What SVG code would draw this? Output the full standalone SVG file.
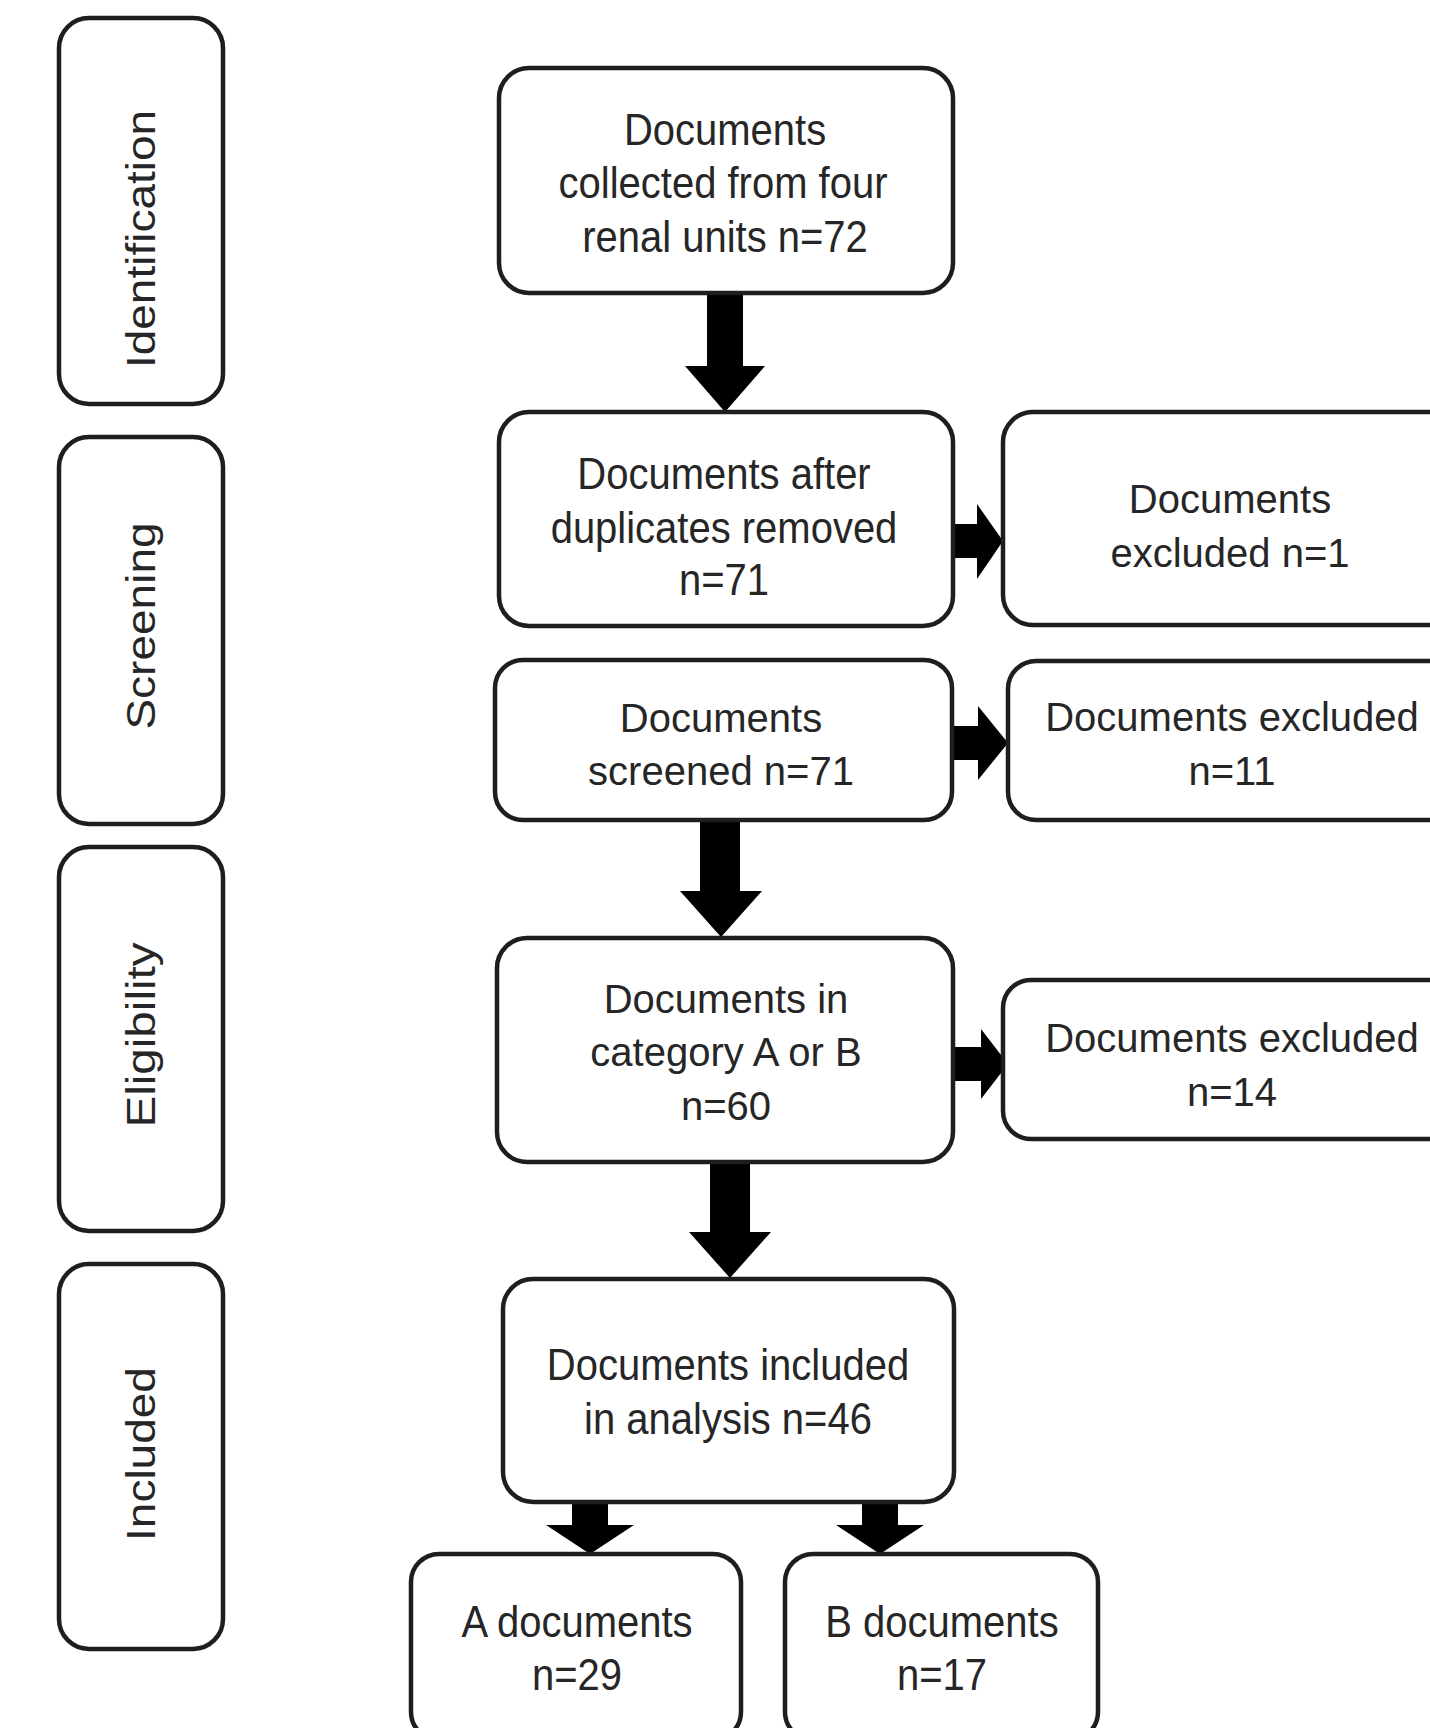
<svg xmlns="http://www.w3.org/2000/svg" width="1430" height="1728" viewBox="0 0 1430 1728">
<style>
.box{fill:#fff;stroke:#1e1e1e;stroke-width:4.5}
.t{font-family:"Liberation Sans",Arial,sans-serif;font-size:40px;fill:#262626;text-anchor:middle}
.arr{fill:#000;stroke:none}
</style>
<rect width="1430" height="1728" fill="#fff"/>
<g id="phase-identification">
<rect class="box" x="59" y="18" width="164" height="386" rx="30"/>
<text class="t" transform="translate(141,239) rotate(-90) scale(1.15,1)" y="14">Identification</text>
</g>
<g id="phase-screening">
<rect class="box" x="59" y="437" width="164" height="387" rx="30"/>
<text class="t" transform="translate(141,626) rotate(-90) scale(1.15,1)" y="14">Screening</text>
</g>
<g id="phase-eligibility">
<rect class="box" x="59" y="847" width="164" height="384" rx="30"/>
<text class="t" transform="translate(141,1035) rotate(-90) scale(1.19,1)" y="14">Eligibility</text>
</g>
<g id="phase-included">
<rect class="box" x="59" y="1264" width="164" height="385" rx="30"/>
<text class="t" transform="translate(141,1454) rotate(-90) scale(1.15,1)" y="14">Included</text>
</g>
<g id="connectors">
<polygon class="arr" points="707,293 743,293 743,366 765,366 725,412 685,366 707,366"/>
<polygon class="arr" points="700,820 740,820 740,891 762,891 721,937 680,891 700,891"/>
<polygon class="arr" points="710,1162 750,1162 750,1232 771,1232 730,1278 689,1232 710,1232"/>
<polygon class="arr" points="572,1502 608,1502 608,1525 634,1525 590,1554 546,1525 572,1525"/>
<polygon class="arr" points="862,1502 898,1502 898,1525 924,1525 880,1554 836,1525 862,1525"/>
<polygon class="arr" points="952,524 977,524 977,504 1003,541 977,579 977,558 952,558"/>
<polygon class="arr" points="951,726 978,726 978,706 1008,743 978,780 978,760 951,760"/>
<polygon class="arr" points="952,1047 981,1047 981,1029 1008,1064 981,1099 981,1081 952,1081"/>
</g>
<g id="n-collected">
<rect class="box" x="499" y="68" width="454" height="225" rx="30"/>
<text class="t" transform="matrix(1,0,0,1.1,725,145)">Documents</text>
<text class="t" transform="matrix(1,0,0,1.1,723,198)">collected from four</text>
<text class="t" transform="matrix(1,0,0,1.1,725,252)">renal units n=72</text>
</g>
<g id="n-duplicates">
<rect class="box" x="499" y="412" width="454" height="214" rx="30"/>
<text class="t" transform="matrix(1,0,0,1.1,724,489)">Documents after</text>
<text class="t" transform="matrix(1,0,0,1.1,724,543)">duplicates removed</text>
<text class="t" transform="matrix(1,0,0,1.1,724,595)">n=71</text>
</g>
<g id="n-excluded1">
<rect class="box" x="1003" y="412" width="460" height="213" rx="30"/>
<text class="t" x="1230" y="513">Documents</text>
<text class="t" x="1230" y="567">excluded n=1</text>
</g>
<g id="n-screened">
<rect class="box" x="495" y="660" width="457" height="160" rx="28"/>
<text class="t" x="721" y="732">Documents</text>
<text class="t" x="721" y="785">screened n=71</text>
</g>
<g id="n-excluded2">
<rect class="box" x="1008" y="661" width="460" height="159" rx="28"/>
<text class="t" x="1232" y="731">Documents excluded</text>
<text class="t" x="1232" y="785">n=11</text>
</g>
<g id="n-category">
<rect class="box" x="497" y="938" width="456" height="224" rx="30"/>
<text class="t" x="726" y="1013">Documents in</text>
<text class="t" x="726" y="1066">category A or B</text>
<text class="t" x="726" y="1120">n=60</text>
</g>
<g id="n-excluded3">
<rect class="box" x="1003" y="980" width="465" height="159" rx="28"/>
<text class="t" x="1232" y="1052">Documents excluded</text>
<text class="t" x="1232" y="1106">n=14</text>
</g>
<g id="n-included">
<rect class="box" x="503" y="1279" width="451" height="223" rx="30"/>
<text class="t" transform="matrix(1,0,0,1.1,728,1380)">Documents included</text>
<text class="t" transform="matrix(1,0,0,1.1,728,1434)">in analysis n=46</text>
</g>
<g id="n-a">
<rect class="box" x="411" y="1554" width="330" height="186" rx="28"/>
<text class="t" transform="matrix(1,0,0,1.1,577,1637)">A documents</text>
<text class="t" transform="matrix(1,0,0,1.1,577,1690)">n=29</text>
</g>
<g id="n-b">
<rect class="box" x="785" y="1554" width="313" height="186" rx="28"/>
<text class="t" transform="matrix(1,0,0,1.1,942,1637)">B documents</text>
<text class="t" transform="matrix(1,0,0,1.1,942,1690)">n=17</text>
</g>
</svg>
